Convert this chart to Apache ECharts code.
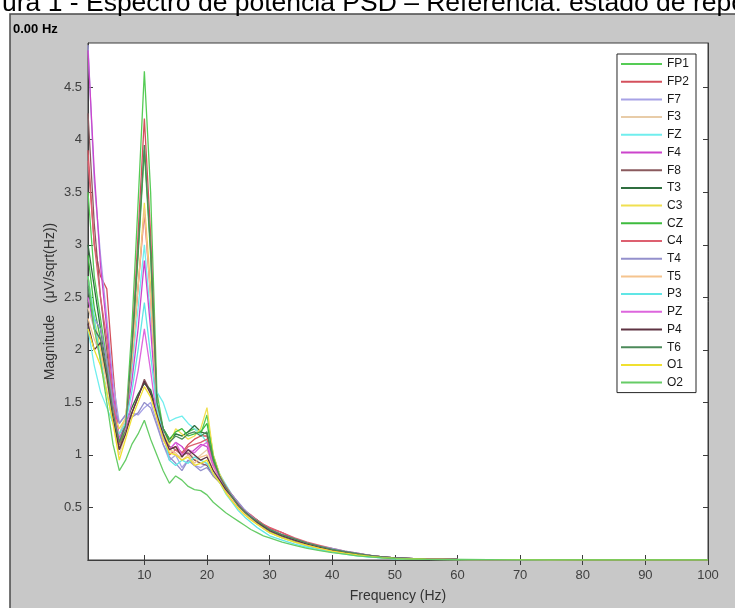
<!DOCTYPE html>
<html>
<head>
<meta charset="utf-8">
<script src="https://cdn.jsdelivr.net/npm/echarts@6/dist/echarts.min.js"></script>
<style>
  html, body { margin: 0; padding: 0; background: #fff; }
  #psd { width: 735px; height: 608px; }
</style>
</head>
<body>
<div id="psd"></div>
<script>
// frecuencias (Hz) de cada punto
var freqs = [1,2,3,4,5,6,7,8,9,10,11,12,13,14,15,16,17,18,19,20,21,22,23,24,25,26,27,28,29,30,
             32,34,36,38,40,42,44,46,48,50,55,60,65,70,75,80,85,90,95,100];

// canales y colores
var channels = ['FP1','FP2','F7','F3','FZ','F4','F8','T3','C3','CZ','C4','T4','T5','P3','PZ','P4','T6','O1','O2'];
var colors = ['#55cc55','#d4505c','#a7a2e6','#e8cca8','#70eeee','#cc44cc','#8a5a5e','#2f6e3f','#f0e050','#3ebb3e',
              '#dd6070','#9490cc','#f5c48e','#60e6e6','#dd66dd','#5e3342','#4c8a5a','#f0e030','#66cc66'];

// magnitud (uV/sqrt(Hz))
var FP1 = [3.5,2.7,2.3,1.9,1.4,1.15,1.3,2.2,3.4,4.65,3.5,1.6, 1.25,1.12,1.2,1.18,1.22,1.25,1.2,1.38,1.0,
           0.82,0.7,0.6,0.53,0.47,0.41,0.36,0.32,0.28, 0.23,0.19,0.15,0.12,0.09,0.07,0.05,0.035,0.025,0.016,
           0.008,0.005,0.004,0.003,0.003,0.002,0.002,0.002,0.002,0.002];
var FP2 = [3.9,3.0,2.7,2.58,1.8,1.1,1.25,2.0,3.1,4.2,3.1,1.5, 1.2,1.05,1.08,1.02,1.1,1.15,1.18,1.18,0.95,
           0.8,0.68,0.62,0.54,0.47,0.42,0.38,0.34,0.3, 0.26,0.2,0.16,0.13,0.1,0.08,0.06,0.045,0.03,0.02,
           0.009,0.005,0.004,0.003,0.003,0.002,0.002,0.002,0.002,0.002];
var F7 = [4.9,3.6,2.9,2.3,1.7,1.3,1.38,1.4,1.38,1.45,1.5,1.3, 1.1,0.95,1.0,0.88,0.95,0.9,0.88,0.92,0.82,
          0.75,0.66,0.6,0.52,0.45,0.4,0.35,0.31,0.27, 0.22,0.18,0.15,0.12,0.1,0.08,0.06,0.04,0.03,0.02,
          0.008,0.005,0.004,0.003,0.003,0.002,0.002,0.002,0.002,0.002];
var F3 = [2.4,2.2,1.9,1.6,1.3,1.0,1.2,1.4,1.55,1.7,1.6,1.4, 1.2,1.05,1.0,0.98,1.05,0.95,1.0,1.05,0.88,
          0.78,0.66,0.57,0.5,0.44,0.39,0.35,0.31,0.27, 0.22,0.18,0.14,0.11,0.09,0.07,0.05,0.035,0.025,0.016,
          0.008,0.005,0.004,0.003,0.003,0.002,0.002,0.002,0.002,0.002];
var FZ = [2.2,1.85,1.6,1.45,1.3,1.2,1.35,1.8,2.4,3.0,2.3,1.6, 1.5,1.32,1.35,1.37,1.3,1.25,1.2,1.12,0.95,
          0.82,0.72,0.62,0.54,0.47,0.4,0.35,0.3,0.26, 0.21,0.17,0.13,0.1,0.08,0.06,0.045,0.03,0.02,0.014,
          0.007,0.004,0.003,0.003,0.002,0.002,0.002,0.002,0.002,0.002];
var F4 = [4.85,3.7,2.8,2.2,1.6,1.15,1.3,1.7,2.2,2.85,2.2,1.4, 1.15,1.05,1.12,1.08,1.0,1.05,1.1,1.08,0.9,
          0.8,0.7,0.6,0.53,0.46,0.41,0.37,0.33,0.29, 0.24,0.2,0.16,0.13,0.1,0.08,0.06,0.04,0.03,0.018,
          0.008,0.005,0.004,0.003,0.003,0.002,0.002,0.002,0.002,0.002];
var F8 = [4.25,3.2,2.5,2.0,1.5,1.05,1.25,1.4,1.55,1.72,1.6,1.4, 1.2,1.08,1.05,1.0,1.02,0.95,0.92,0.9,0.8,
          0.74,0.66,0.58,0.51,0.45,0.4,0.36,0.32,0.28, 0.24,0.2,0.16,0.13,0.1,0.08,0.06,0.045,0.03,0.02,
          0.009,0.005,0.004,0.003,0.003,0.002,0.002,0.002,0.002,0.002];
var T3 = [3.0,2.6,2.2,1.8,1.35,1.1,1.3,1.45,1.58,1.68,1.62,1.42, 1.25,1.15,1.2,1.18,1.22,1.28,1.22,1.2,0.95,
          0.8,0.7,0.6,0.52,0.46,0.42,0.38,0.33,0.29, 0.24,0.2,0.16,0.13,0.1,0.08,0.06,0.045,0.03,0.02,
          0.009,0.005,0.004,0.003,0.003,0.002,0.002,0.002,0.002,0.002];
var C3 = [2.7,2.3,2.0,1.7,1.4,1.25,1.35,1.9,2.6,3.4,2.6,1.45, 1.2,1.1,1.25,1.2,1.15,1.18,1.25,1.45,1.0,
          0.82,0.7,0.6,0.52,0.46,0.41,0.36,0.32,0.28, 0.23,0.19,0.15,0.12,0.09,0.07,0.05,0.035,0.025,0.016,
          0.008,0.005,0.004,0.003,0.003,0.002,0.002,0.002,0.002,0.002];
var CZ = [2.9,2.4,2.1,1.75,1.35,1.1,1.25,1.95,2.9,3.9,2.9,1.5, 1.25,1.15,1.22,1.25,1.18,1.2,1.22,1.3,0.98,
          0.8,0.68,0.59,0.52,0.45,0.4,0.35,0.31,0.27, 0.22,0.18,0.14,0.11,0.09,0.07,0.05,0.035,0.024,0.015,
          0.007,0.005,0.004,0.003,0.003,0.002,0.002,0.002,0.002,0.002];
var C4 = [3.8,3.0,2.5,2.1,1.5,1.1,1.3,1.9,2.6,3.3,2.5,1.45, 1.2,1.0,1.05,1.0,1.08,1.1,1.12,1.15,0.92,
          0.8,0.7,0.62,0.54,0.47,0.43,0.38,0.34,0.31, 0.26,0.21,0.17,0.14,0.11,0.085,0.065,0.045,0.03,0.02,
          0.009,0.005,0.004,0.003,0.003,0.002,0.002,0.002,0.002,0.002];
var T4 = [2.6,2.3,2.2,1.9,1.5,1.3,1.38,1.36,1.4,1.5,1.45,1.28, 1.1,0.98,0.92,0.85,0.95,0.9,0.85,0.88,0.8,
          0.76,0.68,0.62,0.55,0.48,0.42,0.37,0.33,0.29, 0.24,0.2,0.16,0.13,0.11,0.085,0.065,0.045,0.03,0.02,
          0.009,0.005,0.004,0.003,0.003,0.002,0.002,0.002,0.002,0.002];
var T5 = [2.3,2.1,1.95,1.7,1.35,1.2,1.35,1.9,2.6,3.35,2.5,1.45, 1.15,1.05,1.02,0.95,1.0,0.92,0.98,1.0,0.85,
          0.77,0.66,0.58,0.5,0.44,0.39,0.34,0.3,0.26, 0.21,0.17,0.14,0.11,0.085,0.065,0.05,0.035,0.024,0.015,
          0.007,0.004,0.003,0.003,0.002,0.002,0.002,0.002,0.002,0.002];
var P3 = [2.7,2.3,1.9,1.6,1.3,1.2,1.3,1.6,2.0,2.45,1.95,1.45, 1.2,0.95,0.9,0.95,0.92,0.98,0.95,0.92,0.82,
          0.74,0.63,0.55,0.47,0.41,0.36,0.31,0.27,0.23, 0.19,0.15,0.12,0.095,0.075,0.055,0.04,0.028,0.02,0.012,
          0.006,0.004,0.003,0.002,0.002,0.002,0.002,0.002,0.002,0.002];
var PZ = [2.5,2.2,2.1,1.8,1.4,1.15,1.25,1.5,1.8,2.2,1.8,1.35, 1.15,1.05,1.12,1.0,1.05,1.02,1.08,1.12,0.9,
          0.78,0.68,0.6,0.52,0.46,0.41,0.36,0.32,0.28, 0.23,0.19,0.15,0.12,0.095,0.075,0.055,0.04,0.028,0.018,
          0.008,0.005,0.004,0.003,0.003,0.002,0.002,0.002,0.002,0.002];
var P4 = [2.25,2.0,2.07,1.75,1.35,1.05,1.2,1.4,1.55,1.7,1.58,1.38, 1.2,1.05,1.08,0.98,1.05,1.0,0.95,0.98,0.85,
          0.76,0.67,0.6,0.52,0.46,0.41,0.36,0.32,0.28, 0.23,0.19,0.15,0.12,0.095,0.075,0.055,0.04,0.028,0.018,
          0.008,0.005,0.004,0.003,0.003,0.002,0.002,0.002,0.002,0.002];
var T6 = [2.6,2.2,2.1,1.8,1.4,1.12,1.28,2.0,2.95,3.95,2.95,1.5, 1.25,1.12,1.18,1.15,1.2,1.22,1.18,1.22,0.95,
          0.8,0.69,0.6,0.52,0.46,0.41,0.37,0.33,0.29, 0.24,0.2,0.16,0.13,0.1,0.08,0.06,0.042,0.03,0.019,
          0.008,0.005,0.004,0.003,0.003,0.002,0.002,0.002,0.002,0.002];
var O1 = [2.2,2.0,1.85,1.6,1.3,0.95,1.15,1.35,1.5,1.65,1.55,1.35, 1.15,1.02,1.0,0.95,0.98,0.9,0.92,0.95,0.82,
          0.74,0.64,0.56,0.49,0.43,0.38,0.34,0.3,0.26, 0.21,0.17,0.14,0.11,0.085,0.065,0.048,0.034,0.023,0.015,
          0.007,0.004,0.003,0.003,0.002,0.002,0.002,0.002,0.002,0.002];
var O2 = [2.7,2.2,1.9,1.5,1.1,0.85,0.95,1.1,1.2,1.33,1.15,1.0, 0.85,0.73,0.8,0.76,0.7,0.67,0.66,0.62,0.55,
          0.5,0.45,0.41,0.37,0.33,0.29,0.26,0.23,0.21, 0.17,0.14,0.11,0.09,0.07,0.055,0.04,0.03,0.02,0.012,
          0.006,0.004,0.003,0.002,0.002,0.002,0.002,0.002,0.002,0.002];

var channelData = [FP1,FP2,F7,F3,FZ,F4,F8,T3,C3,CZ,C4,T4,T5,P3,PZ,P4,T6,O1,O2];

// etiquetas de los ejes
var xTicks = [10,20,30,40,50,60,70,80,90,100];
var yTicks = [0.5,1,1.5,2,2.5,3,3.5,4,4.5];

var chart = echarts.init(document.getElementById('psd'));

var axisColor = '#3c3c3c';

// una serie por canal
var series = channels.map(function (name, i) {
    return {
        name: name,
        type: 'line',
        symbol: 'none',
        color: colors[i],
        lineStyle: { width: 1.3, color: colors[i] },
        data: freqs.map(function (f, k) { return [f, channelData[i][k]]; })
    };
});

var option = {
    backgroundColor: '#fff',
    animation: false,
    textStyle: { fontFamily: 'Liberation Sans' },
    graphic: [
        // fondo gris de la figura
        {
            type: 'rect', z: -100,
            shape: { x: 10, y: 14, width: 740, height: 610 },
            style: { fill: '#c8c8c8', stroke: '#4a4a4a', lineWidth: 1.5 }
        },
        // titulo recortado del documento
        {
            type: 'text', x: 2, y: -10, z: 100,
            style: {
                text: 'ura 1 - Espectro de potencia PSD \u2013 Referencia: estado de repo',
                font: '26.5px "Liberation Sans"', fill: '#000'
            }
        },
        {
            type: 'text', x: 13, y: 29, z: 100,
            style: { text: '0.00 Hz', font: 'bold 13px "Liberation Sans"', fill: '#000', verticalAlign: 'middle' }
        }
    ],
    grid: {
        left: 88, right: 27, top: 43, bottom: 47,
        show: true, backgroundColor: '#fff', borderColor: axisColor, borderWidth: 1
    },
    legend: {
        orient: 'vertical',
        right: 39, top: 54,
        padding: [4, 7, 4, 4],
        backgroundColor: '#fff',
        borderColor: '#262626', borderWidth: 1,
        icon: 'rect',
        itemWidth: 41, itemHeight: 2, itemGap: 5.7,
        textStyle: { fontSize: 12, color: '#1a1a1a', lineHeight: 12, fontFamily: 'Liberation Sans' },
        data: channels
    },
    xAxis: [{
        type: 'value', min: 1, max: 100,
        name: 'Frequency (Hz)', nameLocation: 'middle', nameGap: 29,
        nameTextStyle: { fontSize: 14, color: '#333' },
        axisLine: { lineStyle: { color: axisColor } },
        axisTick: { inside: true, length: 5, customValues: xTicks, lineStyle: { color: axisColor } },
        axisLabel: { customValues: xTicks, fontSize: 13, color: '#404040', margin: 9 },
        splitLine: { show: false }
    }, {
        type: 'value', min: 1, max: 100, position: 'top',
        axisLine: { lineStyle: { color: axisColor } },
        axisTick: { inside: true, length: 5, customValues: xTicks, lineStyle: { color: axisColor } },
        axisLabel: { show: false },
        splitLine: { show: false }
    }],
    yAxis: [{
        type: 'value', min: 0, max: 4.92,
        name: 'Magnitude   (\u03BCV/sqrt(Hz))', nameLocation: 'middle', nameGap: 31,
        nameMoveOverlap: false,
        nameTextStyle: { fontSize: 14, color: '#333' },
        axisLine: { show: true, lineStyle: { color: axisColor } },
        axisTick: { show: true, inside: true, length: 5, customValues: yTicks, lineStyle: { color: axisColor } },
        axisLabel: { customValues: yTicks, fontSize: 13, color: '#404040', margin: 6 },
        splitLine: { show: false }
    }, {
        type: 'value', min: 0, max: 4.92, position: 'right',
        axisLine: { show: true, lineStyle: { color: axisColor } },
        axisTick: { show: true, inside: true, length: 5, customValues: yTicks, lineStyle: { color: axisColor } },
        axisLabel: { show: false },
        splitLine: { show: false }
    }],
    series: series
};

chart.setOption(option);
</script>
</body>
</html>
